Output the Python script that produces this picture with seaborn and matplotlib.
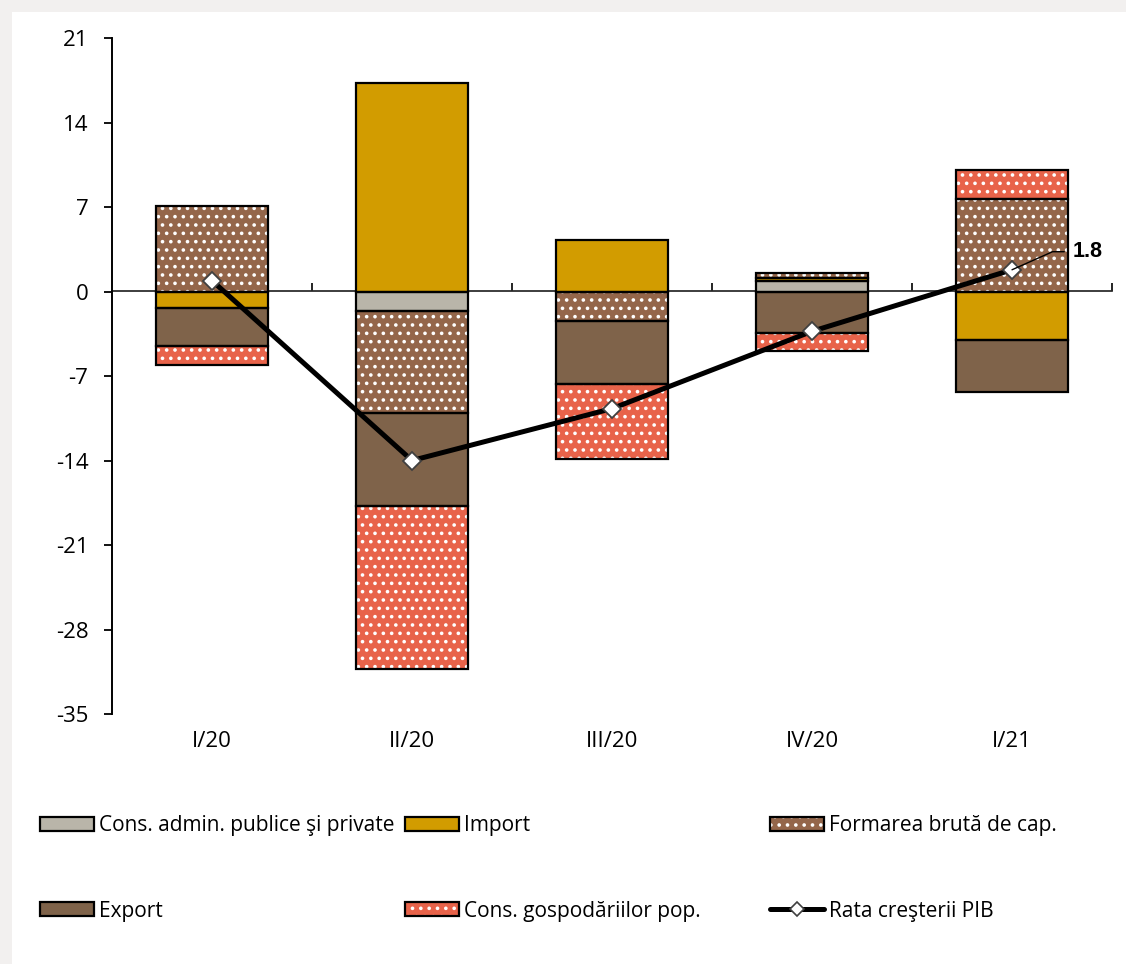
import numpy as np
import pandas as pd
import matplotlib
matplotlib.use("Agg")
import matplotlib.pyplot as plt
from matplotlib.patches import Patch, Rectangle
from matplotlib.lines import Line2D
from matplotlib.legend_handler import HandlerTuple
import seaborn as sns

# ---------------- data ----------------
categories = ["I/20", "II/20", "III/20", "IV/20", "I/21"]
cons_admin = [0.0, -1.6, 0.0, 0.85, 0.0]
import_ = [-1.4, 17.3, 4.25, 0.25, -4.0]
formarea = [7.05, -8.5, -2.45, 0.45, 7.65]
export = [-3.1, -7.7, -5.2, -3.45, -4.3]
cons_gosp = [-1.6, -13.5, -6.25, -1.5, 2.45]
gdp = [0.9, -14.0, -9.7, -3.3, 1.8]
yticks = [-35, -28, -21, -14, -7, 0, 7, 14, 21]

series_names = ["Cons. admin. publice şi private", "Import",
                "Formarea brută de cap.", "Export", "Cons. gospodăriilor pop."]
series_vals = [cons_admin, import_, formarea, export, cons_gosp]
line_name = "Rata creşterii PIB"

colors = {
    "Cons. admin. publice şi private": "#B9B5A9",
    "Import": "#D29C00",
    "Formarea brută de cap.": "#94664A",
    "Export": "#7F634A",
    "Cons. gospodăriilor pop.": "#E8634A",
}
hatched = {"Formarea brută de cap.", "Cons. gospodăriilor pop."}
HATCH = ".."

# ---------------- style ----------------
sns.set_theme(style="white")
plt.rcParams["font.family"] = ["Open Sans", "DejaVu Sans"]
plt.rcParams["text.color"] = "black"
plt.rcParams["axes.unicode_minus"] = False
plt.rcParams["hatch.linewidth"] = 1.4

W, H = 1126, 964
fig = plt.figure(figsize=(W / 100, H / 100), dpi=100, facecolor="#F2F0EF")
fig.patches.append(Rectangle((12 / W, 0), 1 - 12 / W, 1 - 12 / H,
                             transform=fig.transFigure, facecolor="white",
                             edgecolor="none", zorder=-5))
ax = fig.add_axes([112 / W, 1 - 714 / H, 1000 / W, 676 / H])
ax.set_facecolor("none")

BW = 0.56
pos_base = np.zeros(len(categories))
neg_base = np.zeros(len(categories))
for name, vals in zip(series_names, series_vals):
    vals = np.asarray(vals, dtype=float)
    bottoms = np.where(vals >= 0, pos_base, neg_base)
    mask = vals != 0
    cats = [c for c, m in zip(categories, mask) if m]
    v = vals[mask]
    b = bottoms[mask]
    if name in hatched:
        sns.barplot(x=cats, y=v, order=categories, bottom=b, width=BW,
                    color=colors[name], saturation=1, edgecolor="white",
                    linewidth=0, hatch=HATCH, errorbar=None, ax=ax, zorder=2)
    else:
        sns.barplot(x=cats, y=v, order=categories, bottom=b, width=BW,
                    color=colors[name], saturation=1, edgecolor="none",
                    linewidth=0, errorbar=None, ax=ax, zorder=2)
    # black outline layer
    sns.barplot(x=cats, y=v, order=categories, bottom=b, width=BW,
                fill=False, color="black", edgecolor="black", linewidth=1.6,
                errorbar=None, ax=ax, zorder=3)
    pos_base = pos_base + np.where(vals > 0, vals, 0)
    neg_base = neg_base + np.where(vals < 0, vals, 0)

xpos = np.arange(len(categories))
sns.lineplot(x=xpos, y=gdp, color="black", linewidth=3.6, marker="D",
             markersize=9, markerfacecolor="white", markeredgecolor="#404040",
             markeredgewidth=1.3, ax=ax, zorder=5, legend=False)

ax.annotate(f"{gdp[-1]:.1f}", xy=(xpos[-1], gdp[-1]), xytext=(44, 13),
            textcoords="offset points", fontsize=15.5, fontweight="bold",
            family="Liberation Sans", va="center", ha="left",
            arrowprops=dict(arrowstyle="-", color="black", lw=1.0,
                            connectionstyle="angle,angleA=0,angleB=24,rad=0",
                            shrinkA=4, shrinkB=0, relpos=(0, 0.5)),
            zorder=6)

ax.set_xlim(-0.5, len(categories) - 0.5)
ax.set_ylim(yticks[0], yticks[-1])
ax.set_yticks(yticks)
ax.set_xticks(xpos)
ax.set_xticklabels(categories)
ax.set_xlabel("")
ax.set_ylabel("")
for s in ["top", "right", "bottom"]:
    ax.spines[s].set_visible(False)
ax.spines["left"].set_color("black")
ax.spines["left"].set_linewidth(1.4)
ax.tick_params(axis="y", left=True, direction="out", length=6, width=1.3,
               pad=11, labelsize=16, colors="black")
ax.tick_params(axis="x", bottom=False, length=0, pad=12, labelsize=16,
               colors="black")

# zero line with category boundary ticks
zero_frac = (0 - yticks[0]) / (yticks[-1] - yticks[0])
sec = ax.secondary_xaxis(zero_frac)
sec.set_xticks(xpos + 0.5)
sec.set_xticklabels([])
sec.tick_params(axis="x", direction="out", length=6, width=1.2, colors="black")
sec.spines["bottom"].set_linewidth(1.2)
sec.spines["bottom"].set_color("black")

# ---------------- legend ----------------
def patch_handle(name):
    if name in hatched:
        return (Patch(facecolor=colors[name], edgecolor="white", hatch=HATCH, lw=0),
                Patch(facecolor="none", edgecolor="black", lw=1.6))
    return (Patch(facecolor=colors[name], edgecolor="none", lw=0),
            Patch(facecolor="none", edgecolor="black", lw=1.6))

line_handle = Line2D([], [], color="black", lw=3.6, marker="D", markersize=7,
                     markerfacecolor="white", markeredgecolor="#404040",
                     markeredgewidth=1.2)

entries = [
    (patch_handle(series_names[0]), series_names[0], 40, 826),
    (patch_handle(series_names[1]), series_names[1], 405, 826),
    (patch_handle(series_names[2]), series_names[2], 770, 826),
    (patch_handle(series_names[3]), series_names[3], 40, 911),
    (patch_handle(series_names[4]), series_names[4], 405, 911),
    (line_handle, line_name, 770, 911),
]
for h, lab, px, py in entries:
    fig.legend([h], [lab], loc="center left", bbox_to_anchor=(px / W, 1 - py / H),
               frameon=False, fontsize=15, handlelength=2.6, handleheight=0.63,
               handletextpad=0.25, borderpad=0, borderaxespad=0, numpoints=1,
               labelcolor="black",
               handler_map={tuple: HandlerTuple(ndivide=1, pad=0)})

fig.savefig("out.png", dpi=100, facecolor=fig.get_facecolor())
